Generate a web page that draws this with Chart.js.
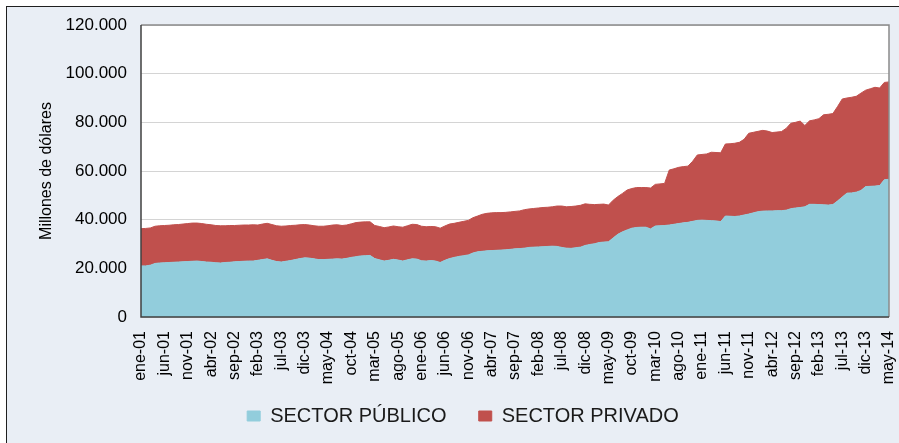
<!DOCTYPE html>
<html>
<head>
<meta charset="utf-8">
<script src="https://cdn.jsdelivr.net/npm/chart.js@4.4.1/dist/chart.umd.min.js"></script>
<style>
  html, body { margin: 0; padding: 0; background: #ffffff; }
  #wrap { position: relative; width: 899px; height: 443px; overflow: hidden; }
  #frame { position: absolute; left: 6px; top: 6px; width: 893px; height: 437px;
           background: #E9EEF5; border-top: 1.5px solid #1f1f1f; border-left: 1.5px solid #1f1f1f; box-sizing: border-box; }
  canvas { position: absolute; left: 0; top: 0; }
</style>
</head>
<body>
<div id="wrap">
  <div id="frame"></div>
  <canvas id="c" width="899" height="443"></canvas>
</div>
<script>
// Month names and years for the category labels
const monthNames = ['ene','feb','mar','abr','may','jun','jul','ago','sep','oct','nov','dic'];
const firstYear = 2001;
const monthCount = 161; // ene-01 .. may-14

// Series values (millones de dólares)
const sectorPublico = [
  21000,21000,21300,22000,22200,22300,22400,22500,22600,22700,
  22800,22900,23000,22800,22600,22500,22300,22200,22400,22500,
  22700,22800,22900,23000,23000,23300,23600,23900,23300,22800,
  22600,22900,23200,23600,24000,24300,24200,23900,23600,23600,
  23700,23800,23900,23800,24100,24500,24800,25100,25200,25300,
  24000,23500,23000,23300,23700,23400,23000,23500,23900,23800,
  23100,23000,23200,23000,22400,23300,24000,24500,24900,25200,
  25500,26300,26800,27000,27200,27300,27400,27500,27600,27800,
  28000,28100,28300,28600,28700,28800,28900,29000,29100,29000,
  28600,28300,28200,28500,28700,29400,29800,30100,30600,30800,
  30900,32500,34000,35000,35800,36500,36800,36900,36900,36200,
  37400,37500,37600,37800,38100,38400,38700,38900,39300,39700,
  39800,39700,39600,39500,39200,41500,41400,41300,41500,41900,
  42300,42800,43300,43500,43600,43600,43700,43700,43900,44500,
  44800,45000,45300,46300,46300,46200,46100,46000,46200,47700,
  49300,50900,51000,51300,52000,53600,53700,53800,54000,56400,
  56600
];
const sectorPrivado = [
  15300,15400,15300,15300,15300,15300,15300,15400,15400,15500,
  15600,15700,15600,15600,15500,15400,15300,15300,15100,15100,
  14900,14900,14900,14800,14900,14500,14600,14600,14700,14700,
  14700,14500,14400,14100,13900,13700,13600,13600,13700,13700,
  13800,14000,14000,13800,13700,13800,14000,13900,13900,13800,
  13600,13700,13700,13700,13700,13700,13900,14000,14200,14200,
  14200,14100,14000,14100,14100,14100,14200,14000,14000,14100,
  14200,14500,14700,15200,15400,15500,15500,15400,15400,15400,
  15400,15500,15800,15800,15900,16000,16100,16100,16200,16600,
  17000,17000,17200,17100,17200,17100,16500,16100,15700,15600,
  15100,15500,15500,15800,16400,16300,16400,16300,16300,16800,
  17100,17200,17300,22600,22800,23100,23100,23100,24700,26900,
  27000,27300,28100,28100,28300,29600,29800,30100,30300,31100,
  33200,33100,33000,33200,32800,32200,32300,32500,33600,35100,
  35200,35500,33400,34300,34700,35300,37000,37300,37400,38800,
  40300,39100,39300,39400,40000,39600,40100,40600,40100,40000,
  40000
];
const seriesNames = ['SECTOR PÚBLICO', 'SECTOR PRIVADO'];
const yTicks = [0, 20000, 40000, 60000, 80000, 100000, 120000];
const yTitle = 'Millones de dólares';

const labels = [];
for (let i = 0; i < monthCount; i++) {
  const y = firstYear + Math.floor(i / 12);
  labels.push(monthNames[i % 12] + '-' + String(y % 100).padStart(2, '0'));
}

const fmt = v => v === 0 ? '0' : String(v).replace(/\B(?=(\d{3})+(?!\d))/g, '.');

const plotBg = {
  id: 'plotBg',
  beforeDraw(chart) {
    const {ctx, chartArea: a} = chart;
    ctx.save();
    ctx.fillStyle = '#ffffff';
    ctx.fillRect(a.left, a.top, a.right - a.left, a.bottom - a.top);
    ctx.restore();
  },
  afterDraw(chart) {
    const {ctx, chartArea: a} = chart;
    ctx.save();
    ctx.strokeStyle = '#8a8a8a';
    ctx.lineWidth = 1.5;
    ctx.beginPath();
    ctx.moveTo(a.left, a.top); ctx.lineTo(a.right, a.top); ctx.lineTo(a.right, a.bottom);
    ctx.stroke();
    ctx.strokeStyle = '#404040';
    ctx.beginPath();
    ctx.moveTo(a.left, a.top); ctx.lineTo(a.left, a.bottom); ctx.lineTo(a.right, a.bottom);
    ctx.stroke();
    ctx.restore();
  }
};

Chart.defaults.font.family = '"Liberation Sans", Arial, sans-serif';
Chart.defaults.color = '#000000';

new Chart(document.getElementById('c'), {
  type: 'line',
  data: {
    labels: labels,
    datasets: [
      { label: seriesNames[0], data: sectorPublico, backgroundColor: '#92CDDC', borderColor: '#92CDDC',
        borderWidth: 1, fill: 'origin', pointRadius: 0, tension: 0 },
      { label: seriesNames[1], data: sectorPrivado, backgroundColor: '#C0504D', borderColor: '#C0504D',
        borderWidth: 1, fill: '-1', pointRadius: 0, tension: 0 }
    ]
  },
  options: {
    responsive: false,
    animation: false,
    events: [],
    layout: { padding: { left: 37, right: 10, top: 25, bottom: 7 } },
    plugins: {
      tooltip: { enabled: false },
      legend: {
        position: 'bottom',
        labels: {
          font: { size: 20 }, color: '#1a1a1a', boxWidth: 13, boxHeight: 10, padding: 10,
          generateLabels: chart => Chart.defaults.plugins.legend.labels.generateLabels(chart)
            .map((it, i) => Object.assign(it, { text: i === 0 ? it.text + '    ' : it.text }))
        }
      }
    },
    scales: {
      x: {
        offset: false,
        grid: { display: false, drawTicks: false },
        border: { display: false },
        ticks: {
          autoSkip: false, maxRotation: 90, minRotation: 90, padding: 14,
          font: { size: 16 },
          callback: (v, i) => (i % 5 === 0 ? labels[i] : null)
        },
        afterFit: s => { s.height = 79; s.paddingRight = 0; s.paddingLeft = 0; }
      },
      y: {
        stacked: true,
        min: 0, max: 120000,
        afterBuildTicks: s => { s.ticks = yTicks.map(v => ({ value: v })); },
        grid: { color: '#D4D4D4', lineWidth: 1, drawTicks: false },
        border: { display: false },
        ticks: { padding: 14, font: { size: 17 }, callback: v => fmt(v) },
        title: { display: true, text: yTitle, font: { size: 16 }, padding: { top: 0, bottom: 0 } },
        afterFit: s => { s.width = 104; }
      }
    }
  },
  plugins: [plotBg]
});
</script>
</body>
</html>
